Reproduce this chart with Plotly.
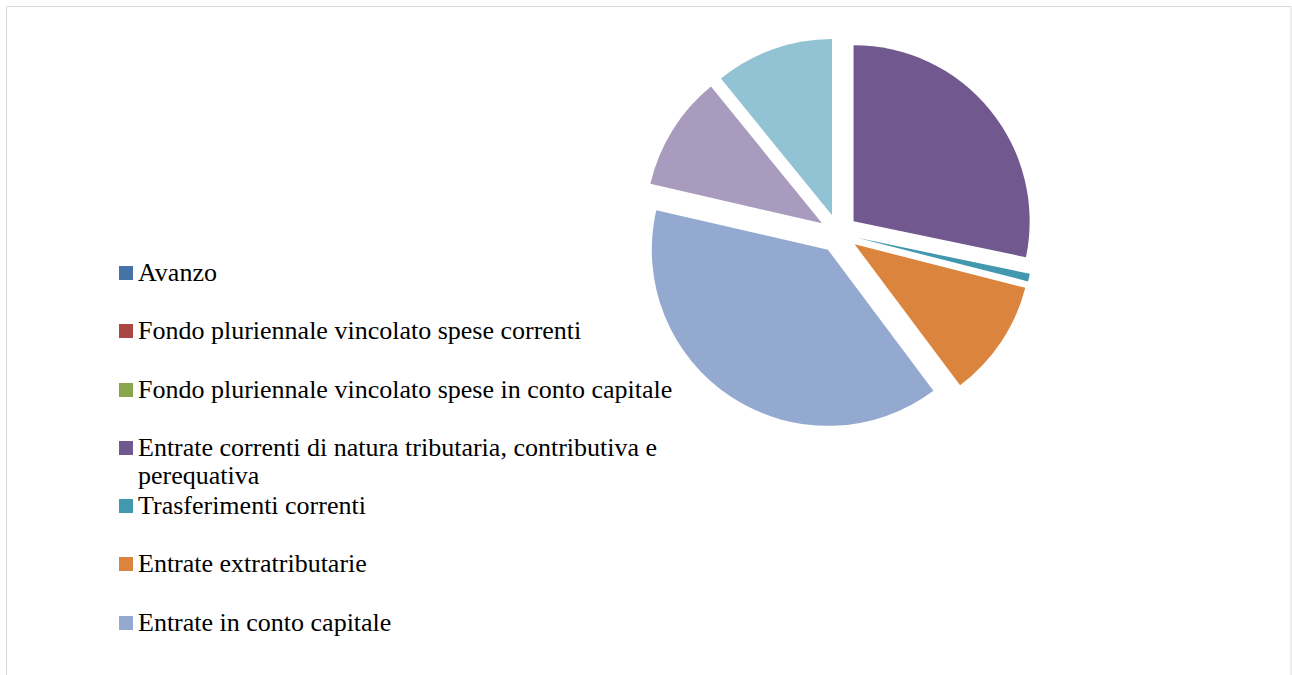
import plotly.graph_objects as go

# Budget revenue sources (euro)
labels = [
    "Avanzo",
    "Fondo pluriennale vincolato spese correnti",
    "Fondo pluriennale vincolato spese in conto capitale",
    "Entrate correnti di natura tributaria, contributiva e perequativa",
    "Trasferimenti correnti",
    "Entrate extratributarie",
    "Entrate in conto capitale",
    "Entrate da riduzione di attività finanziarie",
    "Accensione prestiti",
    "Anticipazioni da istituto tesoriere/cassiere",
    "Entrate per conto terzi e partite di giro",
]
values = [0, 0, 0, 1850000, 46000, 707000, 2540000, 0, 0, 690000, 711000]
colors = [
    "#4572A7", "#AA4643", "#89A54E", "#71588F", "#4198AF", "#DB843D",
    "#93A9CF", "#D19392", "#B9CD96", "#A99BBD", "#92C3D4",
]
# Legend text as laid out (only the first seven entries fit the box)
legend_text = [
    "Avanzo",
    "Fondo pluriennale vincolato spese correnti",
    "Fondo pluriennale vincolato spese in conto capitale",
    "Entrate correnti di natura tributaria, contributiva e<br>perequativa",
    "Trasferimenti correnti",
    "Entrate extratributarie",
    "Entrate in conto capitale",
]

W, H = 1292, 675
FONT = "Liberation Serif"
FONT_SIZE = 26
LINE_GAP = 29


def px(x):
    return x / W


def py(y):
    return 1 - y / H


pie_cx, pie_cy, pie_size = 838.5, 233.5, 391
fig = go.Figure(
    go.Pie(
        labels=labels,
        values=values,
        sort=False,
        direction="clockwise",
        rotation=0,
        pull=[0.11] * len(values),
        marker=dict(colors=colors, line=dict(width=0)),
        textinfo="none",
        hoverinfo="label+value+percent",
        showlegend=False,
        domain=dict(
            x=[px(pie_cx - pie_size / 2), px(pie_cx + pie_size / 2)],
            y=[py(pie_cy + pie_size / 2), py(pie_cy - pie_size / 2)],
        ),
    )
)

shapes = [
    dict(type="rect", xref="paper", yref="paper",
         x0=px(6.5), x1=px(1291), y0=py(690), y1=py(6.5),
         line=dict(color="#D9D9D9", width=1), fillcolor="rgba(0,0,0,0)"),
]
annotations = []
row_y = [273, 331, 390, 448, 506, 564, 623]
for i, (txt, y) in enumerate(zip(legend_text, row_y)):
    shapes.append(dict(
        type="rect", xref="paper", yref="paper",
        x0=px(119), x1=px(133), y0=py(y + 7), y1=py(y - 7),
        fillcolor=colors[i], line=dict(width=0),
    ))
    # wrapped entries continue on the next line, aligned with the first
    for k, line in enumerate(txt.split("<br>")):
        annotations.append(dict(
            xref="paper", yref="paper", x=px(136), y=py(y - 1 + k * LINE_GAP),
            xanchor="left", yanchor="middle",
            text=line, showarrow=False, align="left",
            font=dict(family=FONT, size=FONT_SIZE, color="#000000"),
        ))

fig.update_layout(
    width=W, height=H,
    margin=dict(l=0, r=0, t=0, b=0),
    paper_bgcolor="white",
    plot_bgcolor="white",
    shapes=shapes,
    annotations=annotations,
)

fig.write_html("out.html")
